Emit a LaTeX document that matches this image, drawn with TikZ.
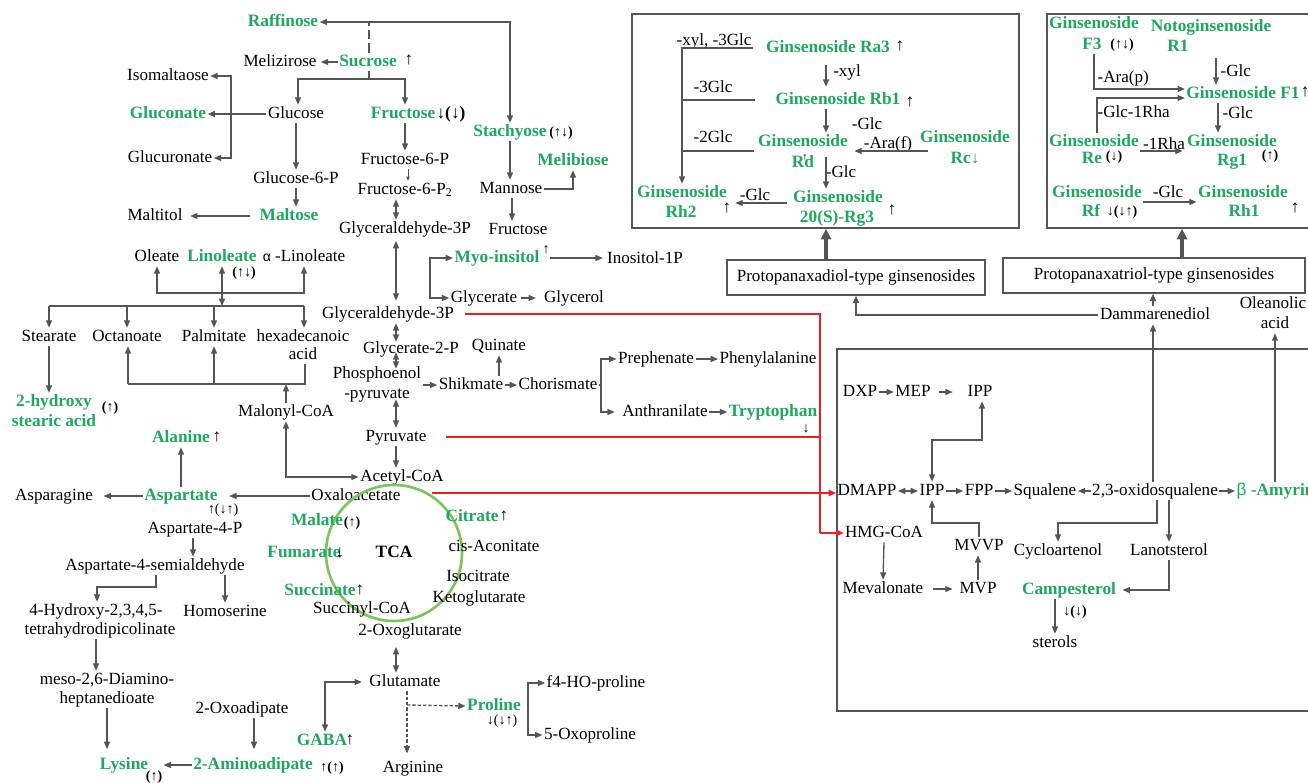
\documentclass[tikz,border=0pt]{standalone}
\usepackage{fontspec}
\setmainfont{Liberation Serif}
\setsansfont{Liberation Sans}
\usetikzlibrary{arrows.meta,calc}
\definecolor{tgreen}{RGB}{30,168,95}
\definecolor{lgray}{RGB}{85,85,85}
\definecolor{tcagreen}{RGB}{125,195,95}
\definecolor{rline}{RGB}{235,30,35}
\newcommand\fsn{\fontsize{12.8}{15}\selectfont}
\newcommand\fsb{\fontsize{13}{15}\selectfont\bfseries}
\newcommand\fss{\fontsize{10.5}{12}\selectfont}
\tikzset{
 tx/.style={inner sep=1pt, font=\fsn, text height=9pt, text depth=2.5pt},
 gr/.style={tx, font=\fsb, text=tgreen},
 sm/.style={inner sep=0.5pt, font=\fss, text height=7pt, text depth=2pt},
 lnk/.style={draw=lgray, line width=1pt},
 arr/.style={lnk, -{Triangle[length=5.5pt,width=4.5pt]}},
 darr/.style={lnk, {Triangle[length=5.5pt,width=4.5pt]}-{Triangle[length=5.5pt,width=4.5pt]}},
 redl/.style={draw=rline, line width=1.2pt},
 redarr/.style={redl, -{Triangle[length=5.5pt,width=4.8pt]}},
 thk/.style={draw=lgray, line width=2.4pt, -{Triangle[length=8pt,width=7.5pt]}},
 boxst/.style={draw=lgray, line width=1pt, inner sep=0pt},
}
\begin{document}
\begin{tikzpicture}[x=0.75pt,y=-0.75pt]
\useasboundingbox (0,0) rectangle (1308,782);
\clip (0,0) rectangle (1308,782);
% ---------- sugars ----------
\node[gr] (raff) at (283,22) {Raffinose};
\node[tx] (meli) at (280,62) {Melizirose};
\node[gr] (sucr) at (368,62) {Sucrose};
\node[tx] (sucrup) at (409,60) {↑};
\node[tx] (isom) at (168,76) {Isomaltaose};
\node[gr] (glcn) at (168,114) {Gluconate};
\node[tx] (gluc) at (296,114) {Glucose};
\node[tx] (glcr) at (170,158) {Glucuronate};
\node[tx] (g6p) at (296,179) {Glucose-6-P};
\node[gr] (malt) at (289,216) {Maltose};
\node[tx] (mltl) at (155,216) {Maltitol};
\node[gr] (fruc) at (403,114) {Fructose};
\node[tx,font=\fsb] (frucm) at (451,114) {↓(↓)};
\node[tx] (f6p) at (405,160) {Fructose-6-P};
\node[tx] (f6p2) at (405,190) {Fructose-6-P\textsubscript{2}};
\node[tx] (gap1) at (405,229) {Glyceraldehyde-3P};
\node[gr] (stac) at (510,132) {Stachyose};
\node[sm,font=\fss\bfseries] (stacm) at (561,133) {(↑↓)};
\node[gr] (melb) at (573,161) {Melibiose};
\node[tx] (mann) at (511,189) {Mannose};
\node[tx] (fruc2) at (518,230) {Fructose};
\node[gr] (myo) at (497,258) {Myo-insitol};
\node[sm] (myoup) at (546,250) {↑};
\node[tx] (ino) at (645,259) {Inositol-1P};
\node[tx] (glyc) at (484,298) {Glycerate};
\node[tx] (glyl) at (574,298) {Glycerol};

\coordinate (jr) at (369,22);
\draw[darr] (raff.east) -| (stac.north);
\draw[lnk, dash pattern=on 7pt off 3pt] (sucr.north -| jr) -- (jr);
\draw[arr,shorten >=2pt] (sucr.west) -- (meli.east);
\coordinate (js) at (369,79);
\draw[lnk] (sucr.south -| js) -- (js);
\draw[arr] (js) -| ($(gluc.north)+(2,0)$);
\draw[arr] (js) -| ($(fruc.north)+(2,0)$);
\coordinate (jg) at (231,114);
\draw[lnk] (gluc.west) -- (jg);
\draw[arr] (jg) |- (isom.east);
\draw[arr] (jg) -- (glcn.east);
\draw[arr] (jg) |- (glcr.east);
\draw[arr] (gluc.south) -- (g6p.north);
\draw[arr] (g6p.south) -- (g6p.south |- malt.north);
\draw[arr] ($(malt.west)+(-8,0)$) -- ($(mltl.east)+(6,0)$);
\draw[arr] (fruc.south -| f6p) -- (f6p.north);
\draw[lnk, line width=0.5pt, -{Triangle[length=3pt,width=2.5pt]}] ($(f6p.south)+(3,0)$) -- ($(f6p2.north)+(3,0)$);
\draw[darr] ($(f6p2.south)+(-9,0)$) -- ($(gap1.north)+(-9,0)$);
\draw[arr] (stac.south) -- (stac.south |- mann.north);
\draw[arr] (mann.east) -| (melb.south);
\draw[arr] ($(mann.south)+(1,0)$) -- ($(mann.south |- fruc2.north)+(1,0)$);
\draw[arr,shorten >=2pt] (myoup.east |- myo) -- (ino.west |- myo);
\coordinate (jm) at (430,278);
\draw[arr] (jm) |- (myo.west);
\draw[arr] (jm) |- (glyc.west);
\draw[arr,shorten <=2pt,shorten >=5pt] (glyc.east) -- (glyl.west);

% ---------- fatty acids ----------
\node[tx] (olea) at (157,257) {Oleate};
\node[gr] (lino) at (222,257) {Linoleate};
\node[sm,font=\fss\bfseries] (linom) at (244,273) {(↑↓)};
\node[tx] (alin) at (304,257) {{\sffamily\fss α} -Linoleate};
\coordinate (ul) at (157,293);
\coordinate (ur) at (304,293);
\draw[darr] (olea.south) -- (ul) -- (ur) -- (alin.south -| ur);
\coordinate (ll) at (49,306);
\coordinate (lr) at (304,306);
\draw[darr] (lino.south) -- (lino.south |- ll);
\node[tx] (stea) at (49,337) {Stearate};
\node[tx] (octa) at (127,337) {Octanoate};
\node[tx] (palm) at (214,337) {Palmitate};
\node[tx] (hexa) at (303,337) {hexadecanoic};
\node[tx] (hexb) at (303,355) {acid};
\draw[lnk] (ll) -- (lr);
\draw[arr] (ll) -- (stea.north);
\draw[arr] (octa.north |- ll) -- (octa.north);
\draw[arr] (palm.north |- ll) -- (palm.north);
\draw[arr] (lr) -- (lr |- hexa.north);
\node[gr] (hyd1) at (54,402) {2-hydroxy};
\node[gr] (hyd2) at (54,422) {stearic acid};
\node[sm,font=\fss\bfseries] (hydm) at (110,408) {(↑)};
\draw[arr] (stea.south) -- (stea.south |- hyd1.north);
\node[tx] (malo) at (286,412) {Malonyl-CoA};
\coordinate (ml) at (128,384);
\coordinate (mr) at (305,384);
\draw[lnk] (ml) -- (mr) -- (mr |- hexb.south);
\draw[arr] (ml) -- (ml |- octa.south);
\draw[arr] (palm.south |- ml) -- (palm.south);
\draw[arr] (malo.north) -- (malo.north |- ml);

% ---------- amino acids left ----------
\node[gr] (alan) at (181,438) {Alanine};
\node[tx] (alanup) at (217,437) {↑};
\node[gr] (asp) at (181,496) {Aspartate};
\node[sm] (aspm) at (223,510) {↑(↓↑)};
\node[tx] (aspn) at (54,496) {Asparagine};
\node[tx] (oxa) at (356,496) {Oxaloacetate};
\node[tx] (acet) at (402,477) {Acetyl-CoA};
\draw[arr] (asp.north) -- (alan.south);
\draw[arr] (asp.west) -- ($(aspn.east)+(9,0)$);
\draw[arr] (oxa.west) -- ($(asp.east)+(10,0)$);
\draw[darr] (malo.south) |- (acet.west);
\node[tx] (as4p) at (195,529) {Aspartate-4-P};
\node[tx] (semi) at (155,566) {Aspartate-4-semialdehyde};
\node[tx] (homo) at (225,612) {Homoserine};
\node[tx] (hyd4a) at (96,611) {4-Hydroxy-2,3,4,5-};
\node[tx] (hyd4b) at (100,630) {tetrahydrodipicolinate};
\node[tx] (meso1) at (107,680) {meso-2,6-Diamino-};
\node[tx] (meso2) at (107,699) {heptanedioate};
\node[gr] (lys) at (124,765) {Lysine};
\node[sm,font=\fss\bfseries] (lysm) at (154,777) {(↑)};
\node[tx] (oxad) at (242,709) {2-Oxoadipate};
\node[gr] (amin) at (253,765) {2-Aminoadipate};
\node[sm,font=\fss\bfseries] (aminm) at (332,768) {↑(↑)};
\draw[arr] ($(as4p.south)+(-2,0)$) -- ($(as4p.south |- semi.north)+(-2,0)$);
\coordinate (sj) at (156,587);
\draw[arr] (semi.south -| sj) -- (sj) -| ($(hyd4a.north)+(1,0)$);
\draw[arr] (semi.south -| homo) -- (homo.north);
\draw[arr] (hyd4b.south -| hyd4a) -- (hyd4a |- meso1.north);
\draw[arr,shorten >=5pt] (meso2.south) -- (meso2.south |- lys.north);
\draw[arr,shorten >=5pt] ($(oxad.south)+(12,0)$) -- ($(oxad.south |- amin.north)+(12,0)$);
\draw[arr] (amin.west) -- ($(lys.east)+(14,0)$);

% ---------- glycolysis / shikimate ----------
\node[tx] (gap2) at (388,314) {Glyceraldehyde-3P};
\node[tx] (g2p) at (411,349) {Glycerate-2-P};
\node[tx] (quin) at (499,346) {Quinate};
\node[tx] (pep1) at (377,374) {Phosphoenol};
\node[tx] (pep2) at (377,394) {-pyruvate};
\node[tx] (pyr) at (396,437) {Pyruvate};
\node[tx] (shik) at (471,385) {Shikmate};
\node[tx] (chor) at (558,385) {Chorismate};
\node[tx] (preph) at (656,359) {Prephenate};
\node[tx] (phen) at (768,359) {Phenylalanine};
\node[tx] (anth) at (665,412) {Anthranilate};
\node[gr] (tryp) at (773,412) {Tryptophan};
\node[sm] (trypm) at (806,429) {↓};
\draw[darr,shorten <=2pt,shorten >=3pt] ($(gap1.south)+(-9,0)$) -- ($(gap1.south |- gap2.north)+(-9,0)$);
\draw[darr] (gap2.south -| pyr) -- ($(g2p.north -| pyr)+(0,2)$);
\draw[darr] ($(g2p.south -| pyr)+(0,-6)$) -- ($(pep1.north -| pyr)+(0,4)$);
\draw[darr] ($(pep2.south -| pyr)+(0,-4)$) -- (pyr.north);
\draw[arr] (pyr.south) -- (pyr.south |- acet.north);
\draw[arr] (pep1.east |- shik) -- (shik.west);
\draw[arr] (quin.south |- shik.north) -- (quin.south);
\draw[arr] (shik.east) -- (chor.west);
\coordinate (cj) at (601,385);
\draw[lnk] (chor.east) -- (cj);
\draw[arr] (cj) |- (preph.west);
\draw[arr] (cj) |- ($(anth.west)+(-6,0)$);
\draw[arr] (preph.east) -- (phen.west);
\draw[arr] (anth.east) -- (tryp.west);

% ---------- TCA ----------
\node[circle, draw=tcagreen, line width=2pt, minimum size=102pt, inner sep=0pt] (tcac) at (394,553) {};
\node[tx,font=\fsb] (tca) at (394,553) {TCA};
\node[gr] (mal) at (317,521) {Malate};
\node[sm,font=\fss\bfseries] (malm) at (352,523) {(↑)};
\node[gr] (cit) at (472,517) {Citrate};
\node[tx] (citup) at (504,516) {↑};
\node[gr] (fum) at (304,553) {Fumarate};
\node[tx] (fumm) at (340,553) {↓};
\node[tx] (cis) at (494,547) {cis-Aconitate};
\node[tx] (iso) at (478,577) {Isocitrate};
\node[tx] (keto) at (479,598) {Ketoglutarate};
\node[gr] (succ) at (320,591) {Succinate};
\node[tx] (succup) at (360,590) {↑};
\node[tx] (sucoa) at (362,609) {Succinyl-CoA};
\node[tx] (oxog) at (410,631) {2-Oxoglutarate};
\node[tx] (glut) at (405,682) {Glutamate};
\node[gr] (gaba) at (322,741) {GABA};
\node[tx] (gabaup) at (350,740) {↑};
\node[tx] (arg) at (413,768) {Arginine};
\node[gr] (pro) at (494,706) {Proline};
\node[sm] (prom) at (502,721) {↓(↓↑)};
\node[tx] (f4) at (596,683) {f4-HO-proline};
\node[tx] (oxop) at (590,735) {5-Oxoproline};
\draw[darr,shorten <=5pt] ($(oxog.south)+(-14,0)$) -- ($(oxog.south |- glut.north)+(-14,0)$);
\draw[darr] ($(gaba.north)+(3,0)$) |- ($(glut.west)+(-6,0)$);
\coordinate (dj) at (407,705);
\draw[arr, dash pattern=on 2.5pt off 1.5pt,shorten >=4pt] (glut.south -| dj) -- (arg.north -| dj);
\draw[arr, dash pattern=on 2.5pt off 1.5pt] (dj) -- (pro.west);
\coordinate (pj) at (528,709);
\draw[arr] (pj) |- (f4.west);
\draw[arr] (pj) |- (oxop.west);

% ---------- terpenoid box ----------
\node[boxst, minimum width=369.75pt, minimum height=271.5pt] (bigbox) at (1083.5,530) {};
\node[tx] (dxp) at (860,392) {DXP};
\node[tx] (mep) at (913,392) {MEP};
\node[tx] (ippt) at (980,392) {IPP};
\node[tx] (dmapp) at (867,491) {DMAPP};
\node[tx] (ippm) at (932,491) {IPP};
\node[tx] (fpp) at (979,491) {FPP};
\node[tx] (squa) at (1045,491) {Squalene};
\node[tx] (oxsq) at (1155,491) {2,3-oxidosqualene};
\node[gr, anchor=west] (amyr) at (1235,491) {{\sffamily\mdseries β} -Amyrin};
\node[tx] (hmg) at (884,533) {HMG-CoA};
\node[tx] (mvvp) at (979,546) {MVVP};
\node[tx] (meva) at (883,589) {Mevalonate};
\node[tx] (mvp) at (978,589) {MVP};
\node[tx] (cyc) at (1058,551) {Cycloartenol};
\node[tx] (lano) at (1169,551) {Lanotsterol};
\node[gr] (camp) at (1069,590) {Campesterol};
\node[sm,font=\fss\bfseries] (campm) at (1075,612) {↓(↓)};
\node[tx] (ster) at (1055,643) {sterols};
\draw[arr] (dxp.east) -- (mep.west);
\draw[arr,shorten <=5pt, shorten >=10pt] (mep.east) -- (ippt.west);
\coordinate (iy) at (0,440);
\draw[darr] (ippm.north) -- (ippm.north |- iy) -| ($(ippt.south)+(2,0)$);
\draw[darr] (dmapp.east) -- (ippm.west);
\draw[arr] (ippm.east) -- (fpp.west);
\draw[arr] (fpp.east) -- (squa.west);
\draw[arr] (oxsq.west) -- (squa.east);
\draw[arr] (oxsq.east) -- (amyr.west);
\coordinate (cj2) at (1157,523);
\draw[arr] (oxsq.south -| cj2) -- (cj2) -| (cyc.north);
\draw[arr] (oxsq.south -| lano) -- (lano.north);
\draw[arr] (lano.south) |- ($(camp.east)+(5,0)$);
\draw[arr] (camp.south -| ster) -- (ster.north);
\draw[arr] (hmg.south) -- (meva.north);
\draw[arr, shorten <=6pt, shorten >=4pt] (meva.east) -- (mvp.west);
\draw[arr] (mvp.north) -- (mvp.north |- mvvp.south);
\draw[arr] (mvvp.north) -- (mvvp.north |- cj2) -| (ippm.south);

% ---------- red links ----------
\coordinate (rt) at (820,314);
\coordinate (rb) at (820,533);
\draw[redl] ($(gap2.east)+(10,0)$) -- (rt) -- (rb);
\draw[redarr] (rb) -- (hmg.west);
\draw[redl] ($(pyr.east)+(18,0)$) -- (pyr -| rt);
\draw[redarr] ($(oxa.east)+(30,-3)$) -- ($(dmapp.west)+(0,2)$);

% ---------- ginsenoside types ----------
\node[boxst, minimum width=193.5pt, minimum height=26.25pt, font=\fsn] (diol) at (856,277.5) {Protopanaxadiol-type ginsenosides};
\node[boxst, minimum width=226.5pt, minimum height=26.25pt, font=\fsn] (triol) at (1154,275.5) {Protopanaxatriol-type ginsenosides};
\node[tx] (damm) at (1155,315) {Dammarenediol};
\node[tx] (olean1) at (1273,304) {Oleanolic};
\node[tx] (olean2) at (1275,324) {acid};
\draw[arr] ($(oxsq.north)+(-2,0)$) -- ($(oxsq.north |- damm.south)+(-2,0)$);
\draw[arr] ($(damm.north)+(-2,0)$) -- ($(damm.north |- triol.south)+(-2,0)$);
\draw[arr] (damm.west) -| (diol.south);
\draw[arr] (amyr.north -| olean2) -- (olean2.south);

% ---------- box 1 ----------
\node[boxst, minimum width=290.25pt, minimum height=160.5pt] (box1) at (825.5,121) {};
\node[gr] (ra3) at (828,48) {Ginsenoside Ra3};
\node[tx] (ra3up) at (900,46) {↑};
\node[gr] (rb1) at (838,100) {Ginsenoside Rb1};
\node[tx] (rb1up) at (910,102) {↑};
\node[gr] (rda) at (803,142) {Ginsenoside};
\node[gr] (rdb) at (803,163) {Rd};
\node[sm,font=\fontsize{8}{9}\selectfont] (rdup) at (805,157) {↑};
\node[gr] (rca) at (965,138) {Ginsenoside};
\node[gr] (rcb) at (965,159) {Rc↓};
\node[gr] (rg3a) at (838,198) {Ginsenoside};
\node[gr] (rg3b) at (837,218) {20(S)-Rg3};
\node[tx] (rg3up) at (892,210) {↑};
\node[gr] (rh2a) at (682,193) {Ginsenoside};
\node[gr] (rh2b) at (681,213) {Rh2};
\node[tx] (rh2up) at (727,208) {↑};
\node[tx] (lxyl3) at (714,41) {-xyl, -3Glc};
\node[tx] (l3g) at (713,88) {-3Glc};
\node[tx] (l2g) at (713,138) {-2Glc};
\node[tx] (lxyl) at (847,72) {-xyl};
\node[tx] (lglc1) at (867,125) {-Glc};
\node[tx] (lglc2) at (841,173) {-Glc};
\node[tx] (lara) at (888,144) {-Ara(f)};
\node[tx] (lglc3) at (755,196) {-Glc};
\coordinate (bt) at (682,48);
\coordinate (y151) at (0,151);
\draw[arr] (lxyl3.east |- bt) -- (bt) -- (bt |- rh2a.north);
\draw[lnk] (bt |- rb1) -- ($(rb1.west)+(-19,0)$);
\draw[lnk] (bt |- y151) -- ($(rda.west |- y151)+(-3,0)$);
\draw[arr, shorten <=6pt, shorten >=3pt] ($(ra3.south)+(-2,0)$) -- ($(ra3.south |- rb1.north)+(-2,0)$);
\draw[arr] ($(rb1.south -| ra3)+(-2,0)$) -- ($(ra3 |- rda.north)+(-2,0)$);
\draw[arr] ($(ra3 |- rda.south)+(-2,6)$) -- ($(ra3 |- rg3a.north)+(-2,0)$);
\draw[arr] ($(rca.west |- y151)+(9,0)$) -- ($(rda.east |- y151)+(5,0)$);
\draw[arr] ($(rg3a.west)+(-5,5)$) -- ($(rh2a.east)+(7,10)$);

% ---------- box 2 ----------
\node[boxst, minimum width=212.25pt, minimum height=160.5pt] (box2) at (1188.5,121) {};
\node[gr] (f3a) at (1094,24) {Ginsenoside};
\node[gr] (f3b) at (1092,45) {F3};
\node[sm,font=\fss\bfseries] (f3m) at (1122,45) {(↑↓)};
\node[gr] (r1a) at (1211,27) {Notoginsenoside};
\node[gr] (r1b) at (1178,47) {R1};
\node[gr] (f1) at (1243,94) {Ginsenoside F1};
\node[tx] (f1up) at (1305,92) {↑};
\node[gr] (rea) at (1094,142) {Ginsenoside};
\node[gr] (reb) at (1092,159) {Re};
\node[sm,font=\fss\bfseries] (rem) at (1114,157) {(↓)};
\node[gr] (rg1a) at (1232,142) {Ginsenoside};
\node[gr] (rg1b) at (1232,161) {Rg1};
\node[sm,font=\fss\bfseries] (rg1m) at (1270,156) {(↑)};
\node[gr] (rfa) at (1097,193) {Ginsenoside};
\node[gr] (rfb) at (1091,212) {Rf};
\node[sm,font=\fss\bfseries] (rfm) at (1122,212) {↓(↓↑)};
\node[gr] (rh1a) at (1243,193) {Ginsenoside};
\node[gr] (rh1b) at (1244,212) {Rh1};
\node[tx] (rh1up) at (1295,208) {↑};
\node[tx, anchor=west] (lara2) at (1096,78) {-Ara(p)};
\node[tx, anchor=west] (lglc4) at (1219,72) {-Glc};
\node[tx, anchor=west] (lgr) at (1096,113) {-Glc-1Rha};
\node[tx, anchor=west] (lglc5) at (1221,114) {-Glc};
\node[tx] (l1rha) at (1164,145) {-1Rha};
\node[tx] (lglc6) at (1168,193) {-Glc};
\draw[arr] ($(f3b.south)+(2,0)$) |- ($(f1.west)+(0,-5)$);
\draw[arr] ($(rea.north)+(3,0)$) |- ($(f1.west)+(0,4)$);
\draw[arr] ($(f1.north)+(-27,-27)$) -- ($(f1.north)+(-27,0)$);
\draw[arr] ($(f1.south)+(-25,0)$) -- ($(f1.south |- rg1a.north)+(-25,0)$);
\draw[arr] ($(rea.east)+(0,9)$) -- ($(rg1a.west |- rea.east)+(-3,9)$);
\draw[arr] ($(rfa.east)+(0,9)$) -- ($(rh1a.west |- rfa.east)+(0,9)$);

% ---------- thick arrows ----------
\draw[thk] ($(diol.north)+(-30,0)$) -- ($(diol.north |- box1.south)+(-30,0)$);
\draw[thk] ($(triol.north)+(28,0)$) -- ($(triol.north |- box2.south)+(28,0)$);
\end{tikzpicture}
\end{document}
